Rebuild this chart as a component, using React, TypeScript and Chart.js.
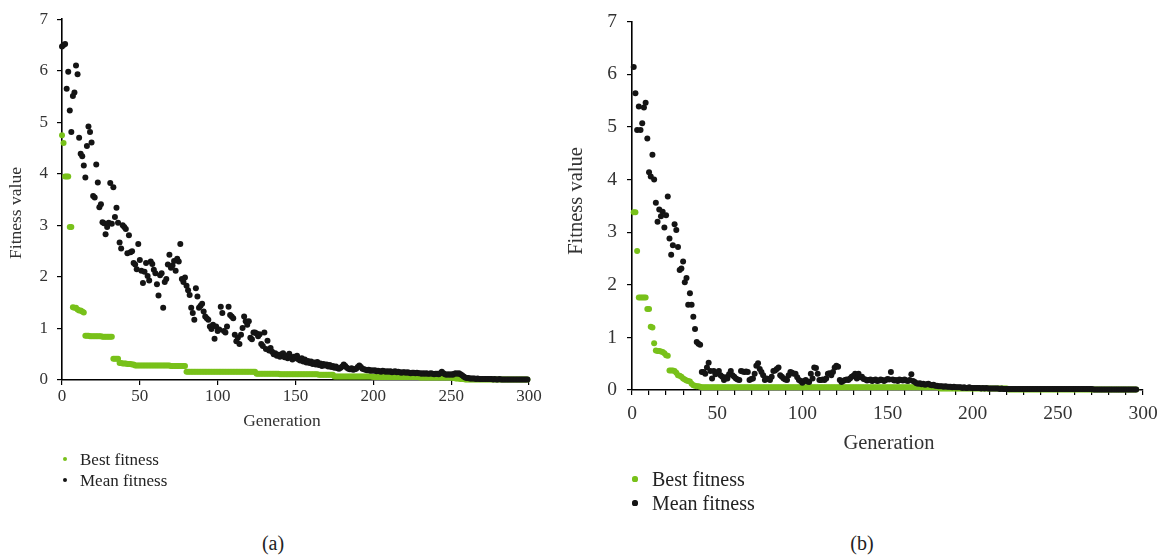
import React, { useEffect, useRef } from "react";
import { Chart, registerables } from "chart.js";

Chart.register(...registerables);

const FONT = '"Liberation Serif", "DejaVu Serif", serif';
const GREEN = "#78c11a";
const BLACK = "#141414";
const TEXT = "#333333";

// ---------- data ----------
const firstGenA = 0;
const firstGenB = 1;
const xTickStepA = 50;
const xTickStepB = 10;
const xLabelStep = 50;
const yMin = 0;
const yMax = 7;
const xMax = 300;

const meanA = [
  6.47, 6.5, 6.52, 5.65, 5.98, 5.23, 4.81, 5.51, 5.58, 6.1,
  5.93, 4.7, 4.39, 4.34, 4.16, 3.93, 4.54, 4.92, 4.81, 4.61,
  3.57, 3.54, 4.18, 3.83, 3.35, 3.41, 3.06, 3.04, 2.83, 2.97,
  3.05, 3.82, 3.03, 3.74, 3.16, 3.34, 3.05, 2.67, 2.55, 3.0,
  2.97, 2.93, 2.46, 2.81, 2.48, 2.5, 2.27, 2.24, 2.15, 2.64,
  2.33, 2.12, 1.88, 2.1, 2.27, 2.02, 1.93, 2.3, 2.25, 2.14,
  2.07, 1.86, 1.64, 2.03, 2.07, 1.4, 1.9, 1.96, 2.24, 2.43,
  2.18, 2.22, 2.31, 2.12, 2.35, 2.3, 2.64, 1.96, 1.9, 1.99,
  1.83, 1.74, 1.65, 1.4, 1.3, 1.17, 1.78, 1.62, 1.4, 1.44,
  1.48, 1.33, 1.23, 1.2, 1.17, 1.04, 0.99, 1.07, 0.8, 1.04,
  0.95, 0.98, 1.42, 1.3, 0.95, 0.92, 1.04, 1.42, 1.26, 1.23,
  1.2, 0.88, 0.75, 0.82, 0.7, 0.88, 1.01, 1.23, 1.14, 1.07,
  1.14, 0.82, 0.79, 0.92, 0.92, 0.9, 0.85, 0.89, 0.7, 0.66,
  0.92, 0.6, 0.76, 0.57, 0.62, 0.55, 0.5, 0.52, 0.47, 0.49,
  0.45, 0.5, 0.52, 0.44, 0.47, 0.42, 0.51, 0.44, 0.4, 0.45,
  0.42, 0.47, 0.4, 0.38, 0.42, 0.36, 0.4, 0.34, 0.37, 0.33,
  0.36, 0.31, 0.34, 0.3, 0.35, 0.29, 0.32, 0.27, 0.31, 0.28,
  0.3, 0.26, 0.29, 0.25, 0.27, 0.24, 0.26, 0.23, 0.22, 0.24,
  0.26, 0.3, 0.27, 0.24, 0.22, 0.21, 0.23, 0.2, 0.21, 0.22,
  0.25, 0.28, 0.25, 0.22, 0.21, 0.2, 0.19, 0.2, 0.18, 0.19,
  0.18, 0.19, 0.17, 0.18, 0.17, 0.16, 0.18, 0.17, 0.16, 0.17,
  0.16, 0.17, 0.15, 0.16, 0.17, 0.15, 0.16, 0.15, 0.14, 0.15,
  0.15, 0.14, 0.15, 0.14, 0.13, 0.14, 0.14, 0.13, 0.14, 0.13,
  0.13, 0.12, 0.13, 0.12, 0.13, 0.12, 0.12, 0.13, 0.12, 0.11,
  0.12, 0.12, 0.11, 0.13, 0.16, 0.13, 0.11, 0.1, 0.11, 0.1,
  0.11, 0.1, 0.12, 0.13, 0.12, 0.13, 0.11, 0.09, 0.07, 0.05,
  0.04, 0.04, 0.03, 0.03, 0.03, 0.03, 0.02, 0.03, 0.02, 0.02,
  0.02, 0.02, 0.02, 0.02, 0.02, 0.02, 0.02, 0.01, 0.02, 0.01,
  0.01, 0.02, 0.01, 0.01, 0.01, 0.01, 0.01, 0.01, 0.01, 0.01,
  0.01, 0.01, 0.01, 0.01, 0.01, 0.01, 0.01, 0.01, 0.01, 0.01,
];

const bestA = [
  4.75, 4.6, 3.95, 3.95, 3.95, 2.97, 2.97, 1.41, 1.4, 1.4,
  1.37, 1.35, 1.35, 1.33, 1.31, 0.86, 0.86, 0.86, 0.85, 0.85,
  0.85, 0.85, 0.85, 0.85, 0.85, 0.85, 0.84, 0.84, 0.84, 0.84,
  0.84, 0.84, 0.84, 0.41, 0.41, 0.41, 0.41, 0.33, 0.33, 0.32,
  0.32, 0.32, 0.31, 0.31, 0.31, 0.3, 0.3, 0.28, 0.28, 0.28,
  0.28, 0.28, 0.28, 0.28, 0.28, 0.28, 0.28, 0.28, 0.28, 0.28,
  0.28, 0.28, 0.28, 0.28, 0.28, 0.28, 0.28, 0.28, 0.28, 0.28,
  0.27, 0.27, 0.27, 0.27, 0.27, 0.27, 0.27, 0.27, 0.27, 0.27,
  0.16, 0.16, 0.16, 0.16, 0.16, 0.16, 0.16, 0.16, 0.16, 0.16,
  0.16, 0.16, 0.16, 0.16, 0.16, 0.16, 0.16, 0.16, 0.16, 0.16,
  0.16, 0.16, 0.16, 0.16, 0.16, 0.16, 0.16, 0.16, 0.16, 0.16,
  0.16, 0.16, 0.16, 0.16, 0.16, 0.16, 0.16, 0.16, 0.16, 0.16,
  0.16, 0.16, 0.16, 0.16, 0.16, 0.12, 0.12, 0.12, 0.12, 0.12,
  0.12, 0.12, 0.12, 0.12, 0.12, 0.12, 0.12, 0.12, 0.12, 0.12,
  0.11, 0.11, 0.11, 0.11, 0.11, 0.11, 0.11, 0.11, 0.11, 0.11,
  0.11, 0.11, 0.11, 0.11, 0.11, 0.11, 0.11, 0.11, 0.11, 0.11,
  0.11, 0.11, 0.11, 0.11, 0.11, 0.1, 0.1, 0.1, 0.1, 0.1,
  0.1, 0.1, 0.1, 0.1, 0.1, 0.07, 0.07, 0.07, 0.07, 0.07,
  0.07, 0.07, 0.07, 0.07, 0.07, 0.07, 0.07, 0.07, 0.07, 0.07,
  0.07, 0.07, 0.07, 0.07, 0.07, 0.07, 0.07, 0.07, 0.07, 0.07,
  0.06, 0.06, 0.06, 0.06, 0.06, 0.06, 0.06, 0.06, 0.06, 0.06,
  0.06, 0.06, 0.06, 0.06, 0.06, 0.06, 0.06, 0.06, 0.06, 0.06,
  0.06, 0.06, 0.06, 0.06, 0.06, 0.06, 0.06, 0.06, 0.06, 0.06,
  0.05, 0.05, 0.05, 0.05, 0.05, 0.05, 0.05, 0.05, 0.05, 0.05,
  0.05, 0.05, 0.05, 0.05, 0.05, 0.05, 0.05, 0.05, 0.05, 0.05,
  0.05, 0.04, 0.04, 0.03, 0.03, 0.03, 0.02, 0.02, 0.02, 0.01,
  0.01, 0.01, 0.01, 0.01, 0.01, 0.01, 0.01, 0.01, 0.01, 0.01,
  0.01, 0.01, 0.01, 0.01, 0.01, 0.01, 0.01, 0.01, 0.01, 0.01,
  0.01, 0.01, 0.01, 0.01, 0.01, 0.01, 0.01, 0.01, 0.01, 0.01,
  0.01, 0.01, 0.01, 0.01, 0.01, 0.01, 0.01, 0.01, 0.01, 0.01,
];

const meanB = [
  6.14, 5.64, 4.94, 5.39, 4.94, 5.07, 5.37, 5.46, 4.78, 4.14,
  4.06, 4.47, 4.0, 3.56, 3.2, 3.43, 3.3, 3.39, 3.09, 3.32,
  3.68, 2.88, 2.57, 2.75, 3.15, 3.04, 2.72, 2.28, 2.31, 2.44,
  2.05, 2.13, 1.62, 1.84, 1.62, 1.39, 1.16, 0.91, 0.88, 0.86,
  0.34, 0.34, 0.31, 0.43, 0.52, 0.36, 0.22, 0.36, 0.3, 0.33,
  0.36, 0.28, 0.25, 0.19, 0.24, 0.22, 0.3, 0.36, 0.28, 0.25,
  0.22, 0.2, 0.19, 0.36, 0.35, 0.34, 0.35, 0.34, 0.19, 0.21,
  0.22, 0.31, 0.46, 0.51, 0.4, 0.34, 0.28, 0.19, 0.22, 0.21,
  0.19, 0.25, 0.36, 0.37, 0.4, 0.43, 0.28, 0.25, 0.22, 0.2,
  0.19, 0.28, 0.34, 0.33, 0.31, 0.31, 0.24, 0.19, 0.17, 0.14,
  0.17, 0.19, 0.16, 0.15, 0.31, 0.22, 0.43, 0.42, 0.31, 0.19,
  0.19, 0.2, 0.19, 0.22, 0.31, 0.32, 0.28, 0.34, 0.43, 0.46,
  0.44, 0.19, 0.15, 0.17, 0.19, 0.2, 0.19, 0.22, 0.25, 0.27,
  0.31, 0.22, 0.31, 0.24, 0.25, 0.21, 0.2, 0.18, 0.19, 0.2,
  0.17, 0.19, 0.2, 0.17, 0.18, 0.2, 0.19, 0.17, 0.19, 0.21,
  0.2, 0.34, 0.2, 0.18, 0.19, 0.17, 0.2, 0.19, 0.18, 0.2,
  0.18, 0.17, 0.19, 0.3, 0.17, 0.15, 0.13, 0.12, 0.13, 0.11,
  0.12, 0.1, 0.11, 0.12, 0.1, 0.09, 0.1, 0.08, 0.08, 0.07,
  0.07, 0.07, 0.06, 0.07, 0.06, 0.06, 0.06, 0.05, 0.06, 0.05,
  0.05, 0.05, 0.05, 0.04, 0.05, 0.04, 0.04, 0.05, 0.04, 0.04,
  0.04, 0.04, 0.04, 0.04, 0.03, 0.04, 0.03, 0.04, 0.03, 0.03,
  0.03, 0.03, 0.03, 0.03, 0.03, 0.02, 0.03, 0.02, 0.02, 0.02,
  0.02, 0.02, 0.02, 0.02, 0.02, 0.02, 0.02, 0.02, 0.02, 0.02,
  0.02, 0.02, 0.02, 0.02, 0.02, 0.02, 0.02, 0.02, 0.02, 0.02,
  0.02, 0.02, 0.02, 0.02, 0.02, 0.02, 0.02, 0.02, 0.02, 0.02,
  0.02, 0.02, 0.02, 0.02, 0.02, 0.02, 0.02, 0.02, 0.02, 0.02,
  0.02, 0.02, 0.02, 0.02, 0.02, 0.02, 0.02, 0.02, 0.02, 0.02,
  0.01, 0.01, 0.01, 0.01, 0.01, 0.01, 0.01, 0.01, 0.01, 0.01,
  0.01, 0.01, 0.01, 0.01, 0.01, 0.01, 0.01, 0.01, 0.01, 0.01,
  0.01, 0.01, 0.01, 0.01, 0.01, 0.01,
];

const bestB = [
  3.38, 3.38, 2.64, 1.76, 1.76, 1.76, 1.76, 1.76, 1.54, 1.54,
  1.2, 1.19, 0.89, 0.75, 0.74, 0.74, 0.73, 0.72, 0.7, 0.66,
  0.65, 0.37, 0.37, 0.37, 0.36, 0.33, 0.28, 0.27, 0.25, 0.22,
  0.2, 0.18, 0.17, 0.16, 0.12, 0.09, 0.08, 0.07, 0.07, 0.06,
  0.05, 0.05, 0.05, 0.05, 0.05, 0.05, 0.05, 0.05, 0.05, 0.05,
  0.05, 0.05, 0.05, 0.05, 0.05, 0.05, 0.05, 0.05, 0.05, 0.05,
  0.05, 0.05, 0.05, 0.05, 0.05, 0.05, 0.05, 0.05, 0.05, 0.05,
  0.05, 0.05, 0.05, 0.05, 0.05, 0.05, 0.05, 0.05, 0.05, 0.05,
  0.05, 0.05, 0.05, 0.05, 0.05, 0.05, 0.05, 0.05, 0.05, 0.05,
  0.05, 0.05, 0.05, 0.05, 0.05, 0.05, 0.05, 0.05, 0.05, 0.05,
  0.05, 0.05, 0.05, 0.05, 0.05, 0.05, 0.05, 0.05, 0.05, 0.05,
  0.05, 0.05, 0.05, 0.05, 0.05, 0.05, 0.05, 0.05, 0.05, 0.05,
  0.05, 0.05, 0.05, 0.05, 0.05, 0.05, 0.05, 0.05, 0.05, 0.05,
  0.05, 0.05, 0.05, 0.05, 0.05, 0.05, 0.05, 0.05, 0.05, 0.05,
  0.05, 0.05, 0.05, 0.05, 0.05, 0.05, 0.05, 0.05, 0.05, 0.05,
  0.05, 0.05, 0.05, 0.05, 0.05, 0.05, 0.05, 0.05, 0.05, 0.05,
  0.05, 0.05, 0.05, 0.05, 0.05, 0.05, 0.05, 0.05, 0.05, 0.05,
  0.05, 0.05, 0.05, 0.05, 0.05, 0.05, 0.05, 0.05, 0.05, 0.05,
  0.03, 0.03, 0.03, 0.03, 0.03, 0.03, 0.03, 0.03, 0.03, 0.03,
  0.03, 0.03, 0.03, 0.03, 0.03, 0.03, 0.03, 0.03, 0.03, 0.03,
  0.03, 0.03, 0.03, 0.03, 0.03, 0.03, 0.03, 0.03, 0.03, 0.03,
  0.03, 0.03, 0.03, 0.03, 0.03, 0.03, 0.03, 0.03, 0.03, 0.03,
  0.01, 0.01, 0.01, 0.01, 0.01, 0.01, 0.01, 0.01, 0.01, 0.01,
  0.01, 0.01, 0.01, 0.01, 0.01, 0.01, 0.01, 0.01, 0.01, 0.01,
  0.01, 0.01, 0.01, 0.01, 0.01, 0.01, 0.01, 0.01, 0.01, 0.01,
  0.01, 0.01, 0.01, 0.01, 0.01, 0.01, 0.01, 0.01, 0.01, 0.01,
  0.01, 0.01, 0.01, 0.01, 0.01, 0.01, 0.01, 0.01, 0.01, 0.01,
  0.01, 0.01, 0.01, 0.01, 0.01, 0.01, 0.01, 0.01, 0.01, 0.01,
  0.01, 0.01, 0.01, 0.01, 0.01, 0.01, 0.01, 0.01, 0.01, 0.01,
  0.01, 0.01, 0.01, 0.01, 0.01, 0.01,
];

const seriesLabels = ["Best fitness", "Mean fitness"];
const seriesColors = [GREEN, BLACK];
const xTitle = "Generation";
const yTitle = "Fitness value";
const captions = ["(a)", "(b)"];

// ---------- helpers ----------
type Pt = { x: number; y: number };
function toPoints(values: number[], firstGen: number): Pt[] {
  return values.map((v, i) => ({ x: firstGen + i, y: v }));
}

const axisTitlesPlugin = {
  id: "axisTitles",
  afterDraw(chart: any, _args: any, opts: any) {
    const { ctx } = chart;
    ctx.save();
    ctx.fillStyle = TEXT;
    ctx.textAlign = "center";
    ctx.textBaseline = "middle";
    ctx.font = `${opts.size}px ${FONT}`;
    ctx.fillText(opts.xText, opts.xPos[0], opts.xPos[1]);
    ctx.translate(opts.yPos[0], opts.yPos[1]);
    ctx.rotate(-Math.PI / 2);
    ctx.fillText(opts.yText, 0, 0);
    ctx.restore();
  },
};

type PanelCfg = {
  mean: Pt[];
  best: Pt[];
  width: number;
  height: number;
  axisLeft: number;
  plotTop: number;
  plotRight: number;
  plotBottom: number;
  tickSize: number;
  titleSize: number;
  xStep: number;
  xPad: number;
  yPad: number;
  radius: number;
  xTitlePos: [number, number];
  yTitlePos: [number, number];
};

function Panel({ cfg, left }: { cfg: PanelCfg; left: number }) {
  const ref = useRef<HTMLCanvasElement | null>(null);
  useEffect(() => {
    if (!ref.current) return;
    const chart = new Chart(ref.current, {
      type: "scatter",
      data: {
        datasets: [
          {
            label: seriesLabels[1],
            data: cfg.mean,
            backgroundColor: seriesColors[1],
            borderWidth: 0,
            pointRadius: cfg.radius,
            pointHoverRadius: cfg.radius,
            clip: false,
            order: 0,
          } as any,
          {
            label: seriesLabels[0],
            data: cfg.best,
            backgroundColor: seriesColors[0],
            borderWidth: 0,
            pointRadius: cfg.radius,
            pointHoverRadius: cfg.radius,
            clip: false,
            order: 1,
          } as any,
        ],
      },
      options: {
        responsive: false,
        animation: false,
        devicePixelRatio: 1,
        layout: {
          padding: {
            left: 0,
            top: cfg.plotTop,
            right: cfg.width - cfg.plotRight,
            bottom: 0,
          },
        },
        plugins: {
          legend: { display: false },
          tooltip: { enabled: false },
          axisTitles: {
            size: cfg.titleSize,
            xText: xTitle,
            yText: yTitle,
            xPos: cfg.xTitlePos,
            yPos: cfg.yTitlePos,
          },
        } as any,
        scales: {
          x: {
            type: "linear",
            min: 0,
            max: xMax,
            afterFit: (s: any) => {
              s.height = cfg.height - cfg.plotBottom;
            },
            ticks: {
              stepSize: cfg.xStep,
              autoSkip: false,
              maxRotation: 0,
              padding: cfg.xPad,
              color: TEXT,
              font: { family: FONT, size: cfg.tickSize },
              callback: (v: any) => (Number(v) % xLabelStep === 0 ? String(v) : ""),
            },
            grid: {
              drawOnChartArea: false,
              drawTicks: true,
              tickLength: 5,
              color: "#000",
              lineWidth: 1.2,
            },
            border: { display: true, color: "#000", width: 1.6 },
          },
          y: {
            type: "linear",
            min: yMin,
            max: yMax,
            afterFit: (s: any) => {
              s.width = cfg.axisLeft;
            },
            ticks: {
              stepSize: 1,
              padding: cfg.yPad,
              color: TEXT,
              font: { family: FONT, size: cfg.tickSize },
            },
            grid: {
              drawOnChartArea: false,
              drawTicks: true,
              tickLength: 5,
              color: "#000",
              lineWidth: 1.2,
            },
            border: { display: true, color: "#000", width: 1.6 },
          },
        },
      } as any,
      plugins: [axisTitlesPlugin as any],
    });
    return () => chart.destroy();
  }, [cfg]);
  return (
    <canvas
      ref={ref}
      width={cfg.width}
      height={cfg.height}
      style={{ position: "absolute", left, top: 0, width: cfg.width, height: cfg.height }}
    />
  );
}

const leftA = 0;
const leftB = 550;

const cfgA: PanelCfg = {
  mean: toPoints(meanA, firstGenA),
  best: toPoints(bestA, firstGenA),
  width: 560,
  height: 450,
  axisLeft: 62,
  plotTop: 11,
  plotRight: 529,
  plotBottom: 380,
  tickSize: 17,
  titleSize: 17.5,
  xStep: xTickStepA,
  xPad: 1,
  yPad: 9,
  radius: 3,
  xTitlePos: [282, 421],
  yTitlePos: [16, 213],
};

const cfgB: PanelCfg = {
  mean: toPoints(meanB, firstGenB),
  best: toPoints(bestB, firstGenB),
  width: 620,
  height: 470,
  axisLeft: 632 - leftB,
  plotTop: 12,
  plotRight: 1143 - leftB,
  plotBottom: 390,
  tickSize: 19.5,
  titleSize: 20.5,
  xStep: xTickStepB,
  xPad: 7,
  yPad: 10,
  radius: 3,
  xTitlePos: [889 - leftB, 444],
  yTitlePos: [577 - leftB, 201],
};

function Legend({ dotX, textX, rows, size, r }: { dotX: number; textX: number; rows: number[]; size: number; r: number }) {
  return (
    <>
      {seriesLabels.map((lab, i) => (
        <React.Fragment key={lab}>
          <span
            style={{
              position: "absolute",
              left: dotX - r,
              top: rows[i] - r,
              width: r * 2,
              height: r * 2,
              borderRadius: "50%",
              background: seriesColors[i],
            }}
          />
          <div
            style={{
              position: "absolute",
              left: textX,
              top: rows[i],
              transform: "translateY(-50%)",
              font: `${size}px ${FONT}`,
              lineHeight: 1,
              color: "#222",
              whiteSpace: "nowrap",
            }}
          >
            {lab}
          </div>
        </React.Fragment>
      ))}
    </>
  );
}

function Caption({ text, x, y }: { text: string; x: number; y: number }) {
  return (
    <div
      style={{
        position: "absolute",
        left: x,
        top: y,
        transform: "translate(-50%, -50%)",
        font: `20px ${FONT}`,
        lineHeight: 1,
        color: "#222",
        whiteSpace: "nowrap",
      }}
    >
      {text}
    </div>
  );
}

export default function App() {
  return (
    <div
      style={{
        position: "fixed",
        left: 0,
        top: 0,
        width: 1170,
        height: 560,
        background: "#fff",
        overflow: "hidden",
      }}
    >
      <Panel cfg={cfgA} left={leftA} />
      <Panel cfg={cfgB} left={leftB} />
      <Legend dotX={65} textX={80} rows={[459, 480]} size={17} r={2.3} />
      <Legend dotX={635} textX={652} rows={[479, 503]} size={20} r={2.6} />
      <Caption text={captions[0]} x={273} y={543} />
      <Caption text={captions[1]} x={862} y={543} />
    </div>
  );
}
